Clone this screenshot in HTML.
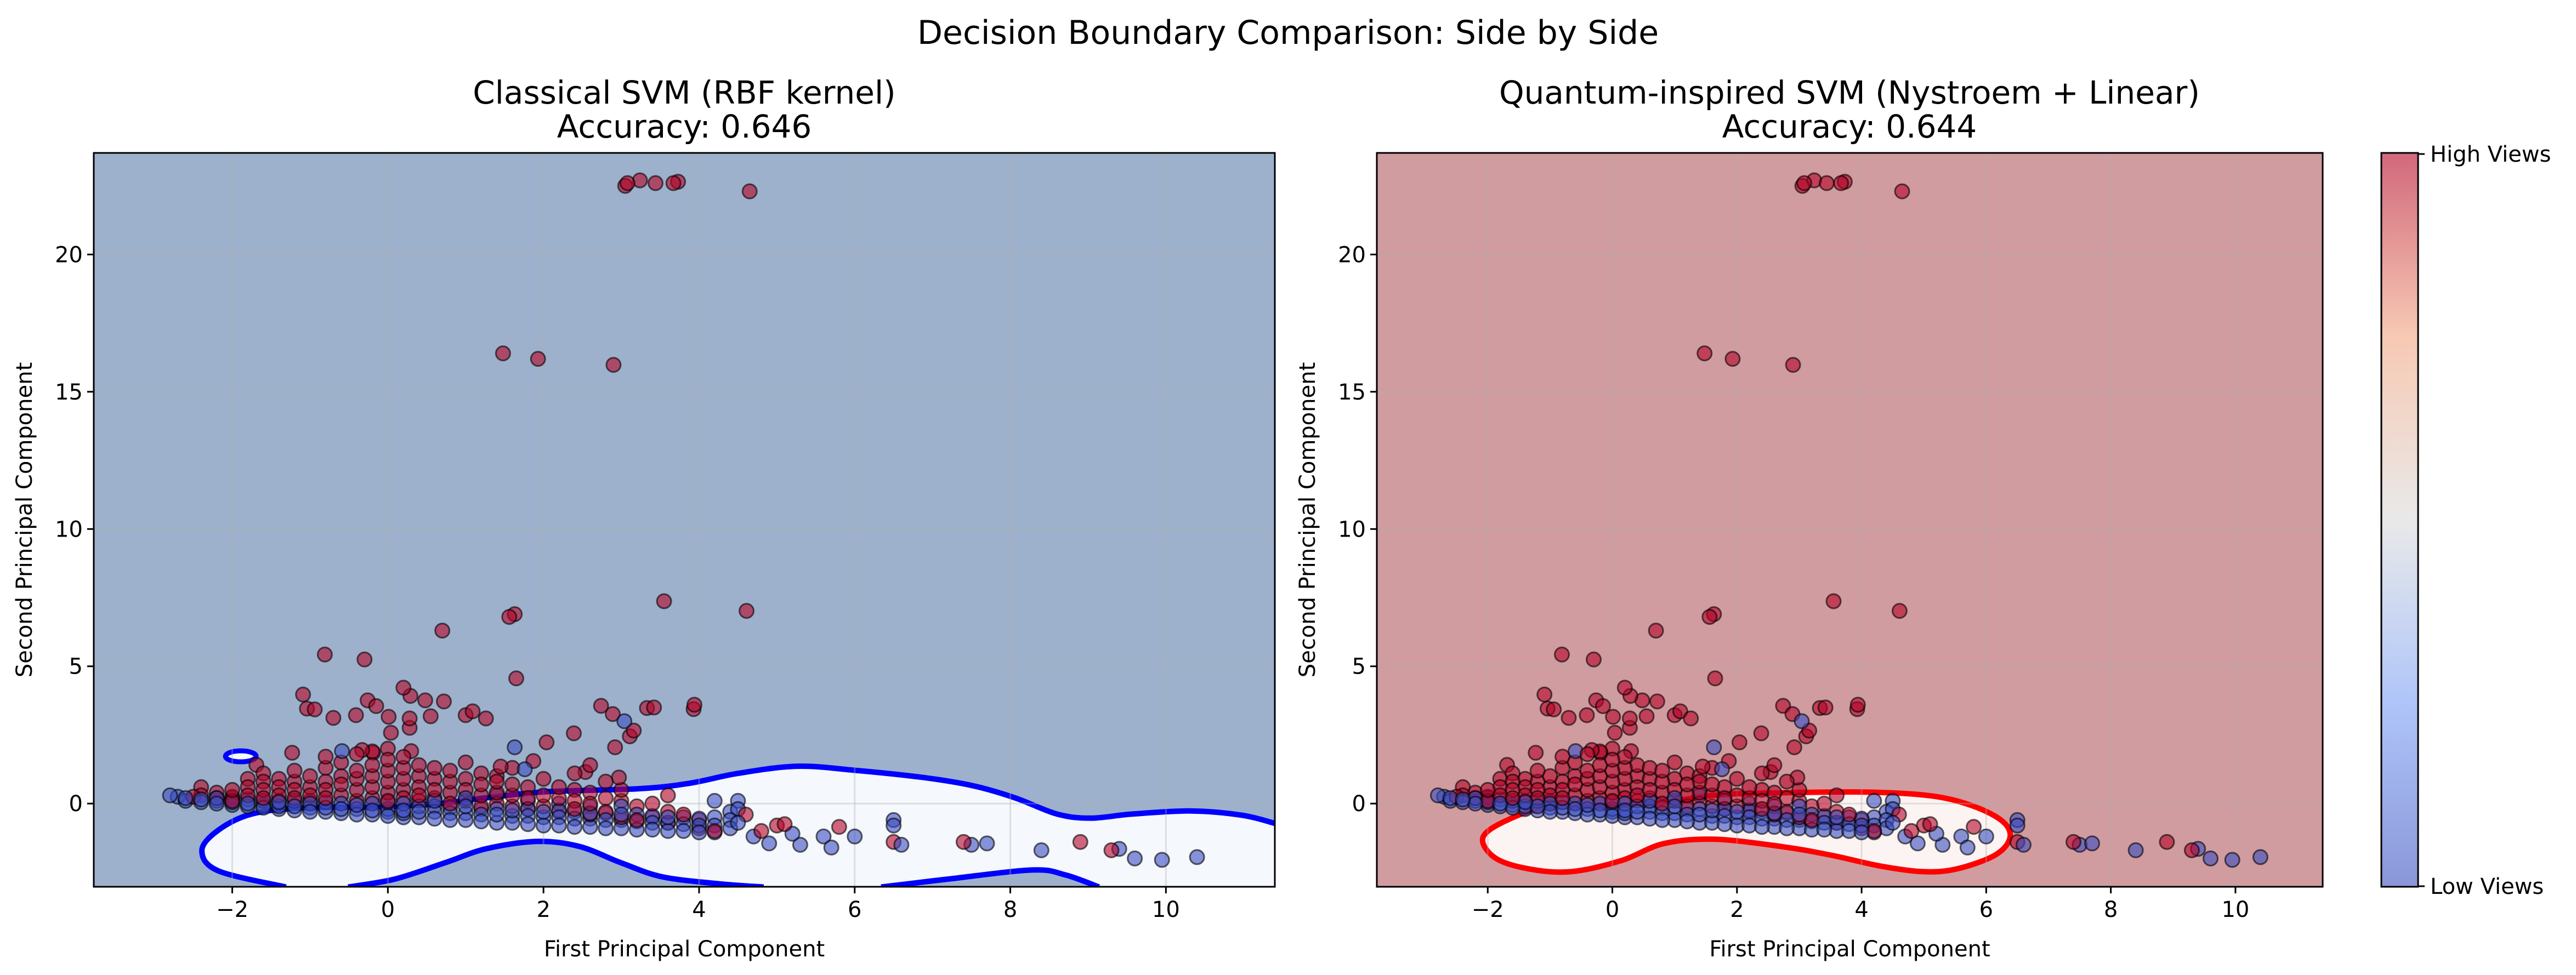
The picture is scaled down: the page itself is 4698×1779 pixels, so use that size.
<!DOCTYPE html>
<html><head><meta charset="utf-8"><style>
html,body{margin:0;padding:0;background:#fff;}
svg{display:block;font-family:"DejaVu Sans","Liberation Sans",sans-serif;}
</style></head><body>
<svg id="fig" width="4698" height="1779" viewBox="0 0 4698 1779">
<text x="2349" y="80" font-size="60" text-anchor="middle">Decision Boundary Comparison: Side by Side</text>
<text x="1248" y="189" font-size="58" text-anchor="middle">Classical SVM (RBF kernel)</text>
<text x="1248" y="251" font-size="58" text-anchor="middle">Accuracy: 0.646</text>
<text x="3373" y="189" font-size="58" text-anchor="middle">Quantum-inspired SVM (Nystroem + Linear)</text>
<text x="3373" y="251" font-size="58" text-anchor="middle">Accuracy: 0.644</text>
<defs>
<linearGradient id="cw" x1="0" y1="1" x2="0" y2="0">
<stop offset="0" stop-color="#8996d9"/><stop offset="0.25" stop-color="#afc5f9"/>
<stop offset="0.5" stop-color="#e9e9e9"/><stop offset="0.75" stop-color="#f7c9b3"/>
<stop offset="1" stop-color="#d2687c"/></linearGradient>
<clipPath id="clipL"><rect x="171" y="279" width="2154" height="1339"/></clipPath>
<clipPath id="clipR"><rect x="2511" y="279" width="1725" height="1339"/></clipPath>
</defs>
<g id="left"></g>
<g id="right"></g>
<rect x="4343" y="279" width="67" height="1339" fill="url(#cw)" stroke="#000" stroke-width="3"/>
<line x1="4410" y1="281" x2="4422" y2="281" stroke="#000" stroke-width="3"/>
<line x1="4410" y1="1617" x2="4422" y2="1617" stroke="#000" stroke-width="3"/>
<text x="4432" y="295" font-size="40">High Views</text>
<text x="4432" y="1631" font-size="40">Low Views</text>
</svg>
<script>
const xTicks=[-2,0,2,4,6,8,10];
const yTicks=[0,5,10,15,20];
const redX=[3.05,3.08,3.24,3.44,3.67,3.73,4.65,1.48,1.93,2.90,3.55,4.61,1.56,1.63,0.70,-0.81,-0.30,1.65,-1.09,-1.04,-0.94,-0.70,-0.41,-0.26,-0.15,0.20,0.29,0.48,0.72,0.01,0.28,0.55,1.00,1.09,1.26,0.28,0.04,2.74,2.89,3.33,3.42,3.94,3.93,2.39,2.04,3.16,3.11,2.92,-1.23,-1.69,-0.80,-0.33,-0.19,0.30,2.54,2.97,1.45,1.87,
-2.5,-2.4,-2.4,-2.2,-2.2,-2.0,-2.0,-2.0,-1.8,-1.8,-1.8,-1.6,-1.6,-1.6,-1.6,-1.4,-1.4,-1.4,-1.4,-1.2,-1.2,-1.2,-1.2,-1.0,-1.0,-1.0,-1.0,-0.8,-0.8,-0.8,-0.8,-0.6,-0.6,-0.6,-0.6,-0.4,-0.4,-0.4,-0.4,-0.4,-0.2,-0.2,-0.2,-0.2,-0.2,0,0,0,0,0,0,0.2,0.2,0.2,0.2,0.2,0.4,0.4,0.4,0.4,0.4,0.6,0.6,0.6,0.6,0.8,0.8,0.8,0.8,1.0,1.0,1.0,1.0,1.2,1.2,1.2,1.2,1.4,1.4,1.4,1.4,1.6,1.6,1.6,1.6,1.8,1.8,1.8,2.0,2.0,2.0,2.2,2.2,2.2,2.4,2.4,2.4,2.4,2.6,2.6,2.6,2.6,2.8,2.8,2.8,3.0,3.0,3.0,3.2,3.2,3.4,3.4,3.6,3.6,3.6,3.8,4.0,4.0,4.2,
4.8,5.0,5.1,5.8,6.5,7.4,8.9,9.3,4.6];
const redY=[22.5,22.6,22.7,22.6,22.6,22.65,22.3,16.4,16.2,15.98,7.37,7.02,6.8,6.9,6.3,5.43,5.25,4.56,3.97,3.46,3.43,3.12,3.22,3.76,3.55,4.22,3.92,3.76,3.72,3.16,3.10,3.18,3.22,3.36,3.10,2.76,2.58,3.56,3.26,3.48,3.50,3.6,3.44,2.56,2.23,2.66,2.45,2.05,1.85,1.41,1.71,1.95,1.85,1.91,1.15,0.95,1.35,1.55,
0.25,0.3,0.6,0.2,0.4,0.25,0.5,0.1,0.3,0.6,0.9,0.2,0.5,0.8,1.1,0.3,0.6,0.9,0.1,0.2,0.5,0.8,1.2,0.3,0.6,1.0,0.1,0.2,0.5,0.8,1.3,0.3,0.7,1.0,1.5,0.1,0.5,0.9,1.2,1.8,0.2,0.6,1.0,1.4,1.9,0.1,0.4,0.8,1.2,1.6,2.0,0.2,0.5,0.9,1.3,1.7,0.1,0.6,1.0,1.4,0.3,0.2,0.5,0.9,1.3,0.0,0.4,0.8,1.2,0.1,0.5,0.9,1.5,-0.1,0.3,0.7,1.1,0.0,0.4,0.8,1.0,-0.1,0.3,0.7,1.3,-0.2,0.2,0.6,-0.1,0.3,0.9,-0.3,0.2,0.6,-0.2,0.1,0.5,1.1,-0.4,0.0,0.4,1.4,-0.3,0.2,0.8,-0.5,0.1,0.5,-0.6,-0.1,-0.5,0.0,-0.7,-0.3,0.3,-0.4,-0.9,-0.6,-1.0,
-1.0,-0.8,-0.75,-0.85,-1.4,-1.4,-1.4,-1.7,-0.4];
const blueX=[-2.8,-2.7,-2.6,-2.6,-2.4,-2.4,-2.2,-2.2,-2.2,-2.0,-2.0,-2.0,-1.8,-1.8,-1.8,-1.6,-1.6,-1.6,-1.4,-1.4,-1.4,-1.2,-1.2,-1.2,-1.0,-1.0,-1.0,-0.8,-0.8,-0.8,-0.6,-0.6,-0.6,-0.4,-0.4,-0.4,-0.2,-0.2,-0.2,0,0,0,0,0.2,0.2,0.2,0.2,0.4,0.4,0.4,0.6,0.6,0.6,0.6,0.8,0.8,0.8,1.0,1.0,1.0,1.0,1.2,1.2,1.2,1.4,1.4,1.4,1.4,1.6,1.6,1.6,1.8,1.8,1.8,1.8,2.0,2.0,2.0,2.2,2.2,2.2,2.2,2.4,2.4,2.4,2.6,2.6,2.6,2.6,2.8,2.8,2.8,3.0,3.0,3.0,3.0,3.2,3.2,3.2,3.4,3.4,3.4,3.6,3.6,3.6,3.8,3.8,3.8,4.0,4.0,4.0,4.2,4.2,4.2,4.2,4.4,4.4,4.4,4.5,4.5,4.5,
4.7,4.9,5.2,5.3,5.6,5.7,6.0,6.5,6.5,6.6,7.5,7.7,8.4,9.4,9.6,9.95,10.4,3.04,1.63,-0.59,1.76];
const blueY=[0.3,0.25,0.2,0.1,0.15,0.05,0.1,0.0,0.2,0.05,-0.05,0.2,0.0,-0.1,0.15,-0.05,-0.15,0.1,-0.1,-0.2,0.05,-0.1,-0.25,0.1,-0.15,-0.3,0.0,-0.15,-0.3,0.05,-0.2,-0.35,0.0,-0.2,-0.4,-0.05,-0.25,-0.4,0.0,-0.2,-0.45,0.05,-0.3,-0.25,-0.5,0.0,-0.35,-0.3,-0.5,-0.1,-0.3,-0.55,-0.1,0.1,-0.35,-0.6,-0.15,-0.35,-0.6,-0.1,0.2,-0.4,-0.65,-0.2,-0.4,-0.7,-0.2,0.3,-0.45,-0.7,-0.25,-0.45,-0.75,-0.2,0.1,-0.5,-0.8,-0.3,-0.5,-0.8,-0.25,0.0,-0.55,-0.85,-0.3,-0.55,-0.85,-0.35,-0.1,-0.6,-0.9,-0.35,-0.6,-0.9,-0.4,-0.1,-0.65,-0.95,-0.4,-0.7,-0.95,-0.45,-0.7,-1.0,-0.5,-0.75,-1.0,-0.5,-0.8,-1.05,-0.55,-0.8,-1.05,-0.5,0.1,-0.9,-0.6,-0.3,-0.2,0.1,-0.7,
-1.2,-1.45,-1.1,-1.5,-1.2,-1.6,-1.2,-0.6,-0.8,-1.5,-1.5,-1.45,-1.7,-1.65,-2.0,-2.05,-1.95,3.0,2.05,1.91,1.25];
// decision boundary contours (data coordinates)
const rbfUpperX=[-1.31,-2.18,-2.39,-2.18,-1.75,-1.10,-0.02,0.63,1.27,2.03,3.21,3.86,4.50,5.26,6.01,6.88,7.52,8.06,8.60,9.03,9.57,10.32,10.97,11.40];
const rbfUpperY=[-3.04,-2.45,-1.71,-0.97,-0.38,-0.16,-0.12,-0.01,0.21,0.43,0.54,0.73,1.10,1.36,1.21,0.95,0.65,0.21,-0.38,-0.53,-0.38,-0.27,-0.42,-0.72];
const rbfBumpAX=[-0.51,0.09,0.73,1.27,1.92,2.46,3.0,3.53,4.29,4.83];
const rbfBumpAY=[-3.04,-2.75,-2.16,-1.64,-1.38,-1.56,-2.16,-2.67,-2.93,-3.04];
const rbfBumpBX=[6.34,7.2,8.28,8.71,9.14];
const rbfBumpBY=[-3.04,-2.75,-2.42,-2.6,-3.04];
const nysX=[-2.08,-1.74,-1.07,0.01,0.82,1.63,2.43,4.05,5.12,5.80,6.27,6.38,6.14,5.53,4.99,4.31,3.51,2.70,1.63,0.82,0.14,-0.66,-1.34,-1.88];
const nysY=[-1.26,-0.66,-0.16,-0.10,0.04,0.30,0.38,0.42,0.28,-0.10,-0.66,-1.26,-1.88,-2.38,-2.48,-2.28,-1.88,-1.56,-1.30,-1.46,-2.08,-2.48,-2.38,-1.98];

const NS='http://www.w3.org/2000/svg';
const XMIN=-3.78,XMAX=11.4,YMIN=-3.03,YMAX=23.7,TOP=279,BOT=1618;
function mk(tag,attrs,parent){const e=document.createElementNS(NS,tag);for(const k in attrs)e.setAttribute(k,attrs[k]);parent.appendChild(e);return e;}
function smooth(pts,closed){
  const n=pts.length;let d='M'+pts[0][0].toFixed(1)+','+pts[0][1].toFixed(1);
  const m=closed?n:n-1;
  for(let i=0;i<m;i++){
    const p0=pts[closed?(i-1+n)%n:Math.max(i-1,0)],p1=pts[i],p2=pts[(i+1)%n],p3=pts[closed?(i+2)%n:Math.min(i+2,n-1)];
    const c1=[p1[0]+(p2[0]-p0[0])/6,p1[1]+(p2[1]-p0[1])/6],c2=[p2[0]-(p3[0]-p1[0])/6,p2[1]-(p3[1]-p1[1])/6];
    d+='C'+c1[0].toFixed(1)+','+c1[1].toFixed(1)+' '+c2[0].toFixed(1)+','+c2[1].toFixed(1)+' '+p2[0].toFixed(1)+','+p2[1].toFixed(1);
  }
  return d+(closed?'Z':'');
}
function panel(g,L,R,clip,bg,inner,lineCol,isRbf){
  const sx=v=>L+(v-XMIN)/(XMAX-XMIN)*(R-L);
  const sy=v=>BOT-(v-YMIN)/(YMAX-YMIN)*(BOT-TOP);
  const bgR=mk('rect',{x:L,y:TOP,width:R-L,height:BOT-TOP,fill:bg},g);
  
  
  const cg=mk('g',{'clip-path':'url(#'+clip+')'},g);
  const toPts=(xs,ys)=>xs.map((x,i)=>[sx(x),sy(ys[i])]);
  if(isRbf){
    const up=toPts(rbfUpperX,rbfUpperY),ba=toPts(rbfBumpAX,rbfBumpAY),bb=toPts(rbfBumpBX,rbfBumpBY);
    const fillR=mk('path',{d:smooth(up,false)+' L'+(R+20)+','+(BOT+20)+' L'+up[0][0]+','+(BOT+20)+'Z',fill:inner},cg);
    
    
    mk('path',{d:smooth(ba,false)+'Z',fill:bg},cg);
    mk('path',{d:smooth(bb,false)+'Z',fill:bg},cg);
    [up,ba,bb].forEach(p=>{const c=mk('path',{d:smooth(p,false),fill:'none',stroke:lineCol,'stroke-width':10},cg);
      
      });
    const el=mk('ellipse',{cx:sx(-1.89),cy:sy(1.72),rx:28,ry:10,fill:inner,stroke:lineCol,'stroke-width':9},cg);
    
    
  } else {
    const lp=toPts(nysX,nysY);
    const c=mk('path',{d:smooth(lp,true),fill:inner,stroke:lineCol,'stroke-width':10},cg);
    
    
  }
  xTicks.forEach(t=>{mk('line',{x1:sx(t),x2:sx(t),y1:TOP,y2:BOT,stroke:'#b0b0b0','stroke-opacity':0.35,'stroke-width':3},cg);});
  yTicks.forEach(t=>{mk('line',{x1:L,x2:R,y1:sy(t),y2:sy(t),stroke:'#b0b0b0','stroke-opacity':0.35,'stroke-width':3},cg);});
  const pts=[];
  redX.forEach((x,i)=>pts.push([x,redY[i],'#b40426','point-high-views']));
  blueX.forEach((x,i)=>pts.push([x,blueY[i],'#3b4cc0','point-low-views']));
  pts.sort((a,b)=>(a[0]*7.3+a[1]*3.1)%1-(b[0]*7.3+b[1]*3.1)%1);
  pts.forEach(p=>{const c=mk('circle',{cx:sx(p[0]).toFixed(1),cy:sy(p[1]).toFixed(1),r:13,fill:p[2],'fill-opacity':0.6,stroke:'#000','stroke-opacity':0.6,'stroke-width':3},cg);
    
    });
  const fr=mk('rect',{x:L,y:TOP,width:R-L,height:BOT-TOP,fill:'none',stroke:'#000','stroke-width':3},g);
  
  
  xTicks.forEach(t=>{mk('line',{x1:sx(t),x2:sx(t),y1:BOT,y2:BOT+12,stroke:'#000','stroke-width':3},g);
    const tx=mk('text',{x:sx(t),y:BOT+55,'font-size':40,'text-anchor':'middle'},g);tx.textContent=(t<0?'\u2212'+(-t):t);
    
    });
  yTicks.forEach(t=>{mk('line',{x1:L-12,x2:L,y1:sy(t),y2:sy(t),stroke:'#000','stroke-width':3},g);
    const tx=mk('text',{x:L-20,y:sy(t)+14,'font-size':40,'text-anchor':'end'},g);tx.textContent=t;
    
    });
  const xl=mk('text',{x:(L+R)/2,y:1745,'font-size':40,'text-anchor':'middle'},g);xl.textContent='First Principal Component';
  
  
  const yx=L-113,ym=(TOP+BOT)/2;
  const yl=mk('text',{x:yx,y:ym,'font-size':40,'text-anchor':'middle',transform:'rotate(-90 '+yx+' '+ym+')'},g);yl.textContent='Second Principal Component';
  
  
}
panel(document.getElementById('left'),171,2325,'clipL','#9db1cc','#f5f8fc','#0000ff',true);
panel(document.getElementById('right'),2511,4236,'clipR','#d09ca0','#fcf4f2','#ff0000',false);
</script>
</body></html>
